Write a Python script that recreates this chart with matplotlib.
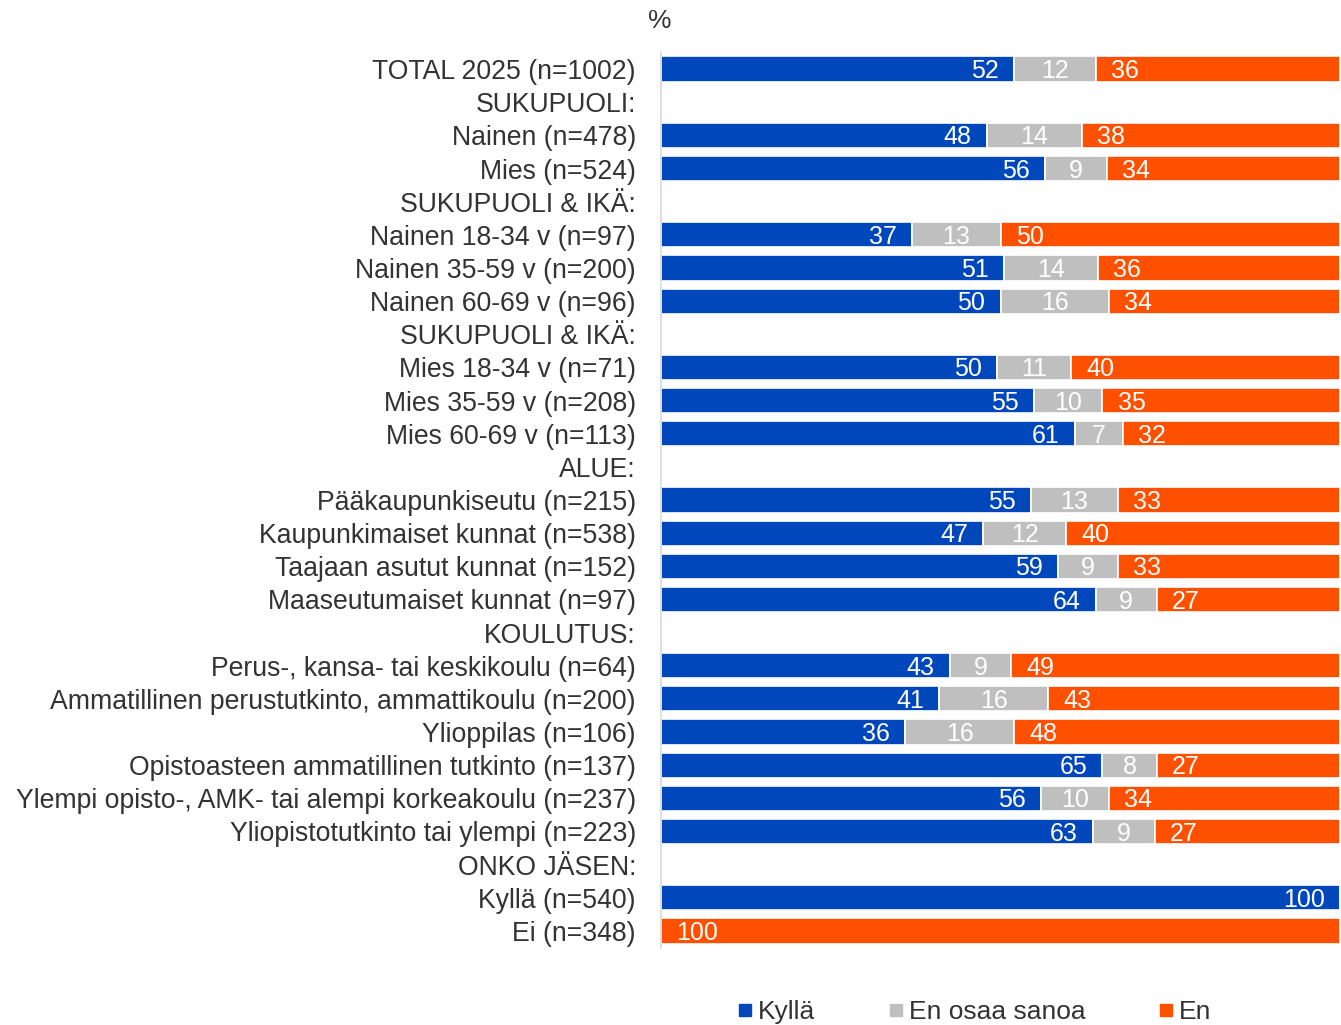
import matplotlib
matplotlib.use("Agg")
import matplotlib.pyplot as plt
from matplotlib.lines import Line2D
import numpy as np

plt.rcParams['font.family'] = ['Liberation Sans', 'DejaVu Sans']

categories = [
    "TOTAL 2025 (n=1002)", "SUKUPUOLI:", "Nainen (n=478)", "Mies (n=524)",
    "SUKUPUOLI & IKÄ:", "Nainen 18-34 v (n=97)", "Nainen 35-59 v (n=200)",
    "Nainen 60-69 v (n=96)", "SUKUPUOLI & IKÄ:", "Mies 18-34 v (n=71)",
    "Mies 35-59 v (n=208)", "Mies 60-69 v (n=113)", "ALUE:",
    "Pääkaupunkiseutu (n=215)", "Kaupunkimaiset kunnat (n=538)",
    "Taajaan asutut kunnat (n=152)", "Maaseutumaiset kunnat (n=97)",
    "KOULUTUS:", "Perus-, kansa- tai keskikoulu (n=64)",
    "Ammatillinen perustutkinto, ammattikoulu (n=200)", "Ylioppilas (n=106)",
    "Opistoasteen ammatillinen tutkinto (n=137)",
    "Ylempi opisto-, AMK- tai alempi korkeakoulu (n=237)",
    "Yliopistotutkinto tai ylempi (n=223)", "ONKO JÄSEN:",
    "Kyllä (n=540)", "Ei (n=348)",
]
kylla = [52, 0, 48, 56, 0, 37, 51, 50, 0, 50, 55, 61, 0, 55, 47, 59, 64, 0, 43, 41, 36, 65, 56, 63, 0, 100, 0]
eos   = [12, 0, 14, 9, 0, 13, 14, 16, 0, 11, 10, 7, 0, 13, 12, 9, 9, 0, 9, 16, 16, 8, 10, 9, 0, 0, 0]
en    = [36, 0, 38, 34, 0, 50, 36, 34, 0, 40, 35, 32, 0, 33, 40, 33, 27, 0, 49, 43, 48, 27, 34, 27, 0, 0, 100]
series_names = ["Kyllä", "En osaa sanoa", "En"]
colors = ["#0047BB", "#BFBFBF", "#FF5000"]

data = np.array([kylla, eos, en], dtype=float)
tot = data.sum(axis=0)
norm = np.where(tot > 0, data / np.where(tot > 0, tot, 1) * 100, 0)

fig = plt.figure(figsize=(13.41, 10.25), dpi=100)
ax = fig.add_axes([0.4929, 0.0756, 0.5064, 0.8732])

y = np.arange(len(categories))
left = np.zeros(len(categories))
txtkw = dict(color="white", fontsize=18, va="center")
for i in range(3):
    ax.barh(y, norm[i], left=left, height=0.76, color=colors[i],
            edgecolor="white", linewidth=1.2)
    for j in range(len(categories)):
        v = data[i, j]
        if v <= 0:
            continue
        if i == 0:
            ax.annotate(f"{int(v)}", (left[j] + norm[i, j], y[j]), xytext=(-11, -1.5),
                        textcoords="offset points", ha="right", **txtkw)
        elif i == 1:
            ax.annotate(f"{int(v)}", (left[j] + norm[i, j] / 2, y[j]), xytext=(0, -1.5),
                        textcoords="offset points", ha="center", **txtkw)
        else:
            ax.annotate(f"{int(v)}", (left[j], y[j]), xytext=(11, -1.5),
                        textcoords="offset points", ha="left", **txtkw)
    left = left + norm[i]

ax.set_xlim(0, 100)
ax.set_ylim(len(categories) - 0.5, -0.5)
ax.set_yticks(y)
ax.set_yticklabels(categories, fontsize=19.2, color="#333333")
ax.tick_params(axis="y", length=0, pad=18)
ax.set_xticks([])
for s in ["top", "right", "bottom"]:
    ax.spines[s].set_visible(False)
ax.spines["left"].set_color("#D9D9D9")
ax.spines["left"].set_linewidth(1.2)

fig.text(660 / 1341, 1 - 21 / 1025, "%", fontsize=19, color="#333333",
         ha="center", va="center")

handles = [Line2D([0], [0], marker="s", linestyle="none", markersize=8,
                  markerfacecolor=c, markeredgecolor=c) for c in colors]
fig.legend(handles, series_names, loc="center", bbox_to_anchor=(975 / 1341, 1 - 1012 / 1025),
           ncol=3, frameon=False, fontsize=19, handlelength=0.5, handletextpad=0.25,
           columnspacing=2.8, labelcolor="#333333", borderpad=0)

fig.savefig("out.png", dpi=100)
